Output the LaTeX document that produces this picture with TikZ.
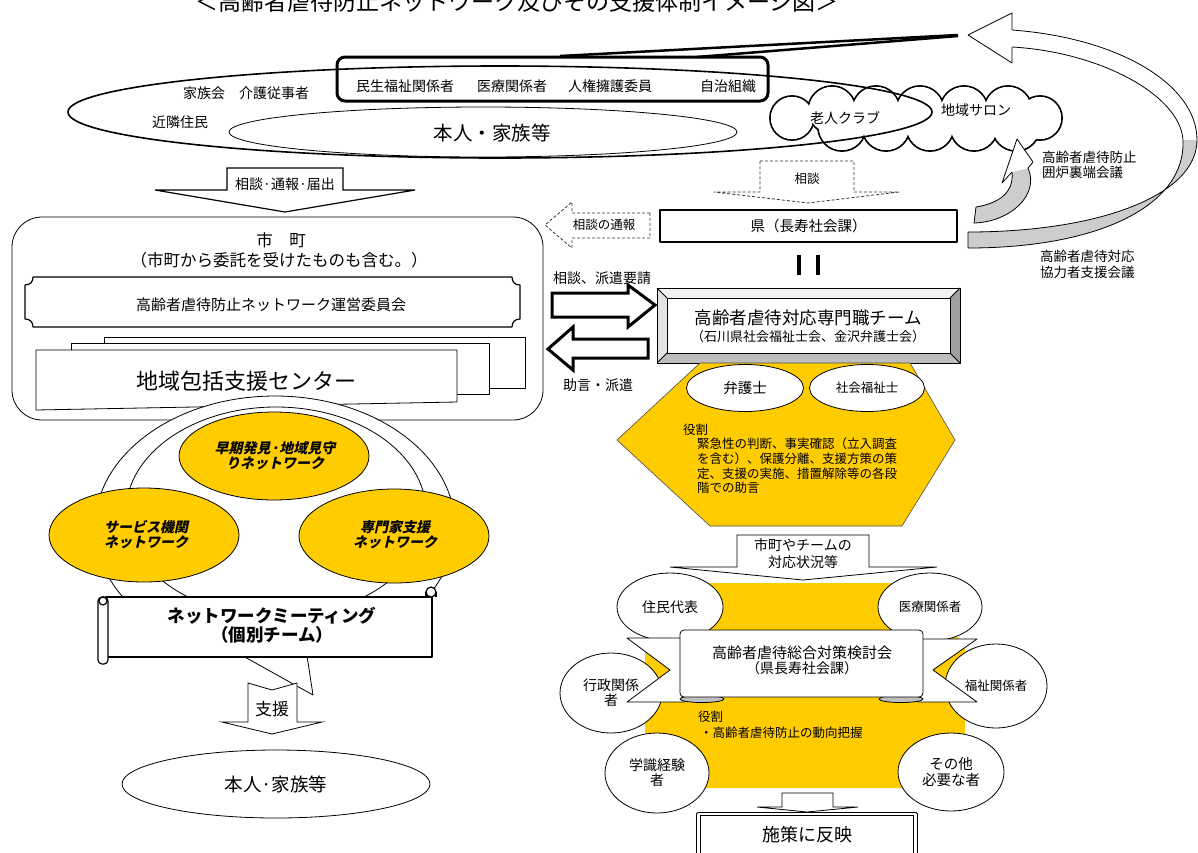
\documentclass[tikz,border=0pt]{standalone}
\usepackage{fontspec}
\setmainfont{Noto Sans CJK JP}
\newfontfamily\jpbi{Noto Sans CJK JP}[FakeSlant=0.22]
\usetikzlibrary{shapes.geometric,calc}
\definecolor{yel}{RGB}{255,204,0}
\definecolor{bevlight}{RGB}{242,242,242}
\definecolor{bevleft}{RGB}{228,228,228}
\definecolor{bevright}{RGB}{160,160,160}
\definecolor{bevbot}{RGB}{190,190,190}
\definecolor{ribbon}{RGB}{205,205,205}
\newcommand\fs[2]{\fontsize{#1}{#2}\selectfont}
\begin{document}
\begin{tikzpicture}[x=1pt,y=-1pt,line join=round,
  every node/.style={inner sep=0pt,outer sep=0pt,align=center},
  ln/.style={draw=black,line width=0.8pt},
  dsh/.style={draw=black!80,line width=0.8pt,dash pattern=on 3pt off 2pt},
  blk/.style={draw=black,line width=3pt,fill=white,line join=miter},
  circ/.style={ellipse,draw=black,line width=0.8pt,fill=white},
  yell/.style={ellipse,draw=black,line width=0.8pt,fill=yel},
  netlbl/.style={font=\jpbi\bfseries\fs{14}{15}},
]
\useasboundingbox (0,0) rectangle (1198,852);
\fill[white] (0,0) rectangle (1198,852);

% ---------- title
\node[anchor=base] (title) at (517,10) {\fs{23}{23}＜高齢者虐待防止ネットワーク及びその支援体制イメージ図＞};

% ---------- cloud (union of lobes)
\foreach \cx/\cy/\r in {792/118/22, 832/110/24, 876/110/24, 920/110/24, 964/110/24, 1008/110/24, 1040/118/22, 842/127/24, 886/127/24, 930/127/24, 974/127/24, 1016/127/24}
  \draw[line width=1.8pt, fill=white] (\cx,\cy) circle[radius=\r];
\foreach \cx/\cy/\r in {792/118/22, 832/110/24, 876/110/24, 920/110/24, 964/110/24, 1008/110/24, 1040/118/22, 842/127/24, 886/127/24, 930/127/24, 974/127/24, 1016/127/24}
  \fill[white] (\cx,\cy) circle[radius=\r-0.9];
\coordinate (cloud) at (915,118);
\node (rojin) at (845,118) {\fs{14}{14}老人クラブ};
\node (salon) at (976,110) {\fs{14}{14}地域サロン};

\node[draw=black, line width=3pt, rounded corners=8pt, fill=white, minimum width=431pt, minimum height=44pt] (kankei) at (552.5,79) {};
\node (minsei) at (405,86) {\fs{14}{14}民生福祉関係者};
\node (iryo) at (512,86) {\fs{14}{14}医療関係者};
\node (jinken) at (610,86) {\fs{14}{14}人権擁護委員};
\node (jichi) at (728,86) {\fs{14}{14}自治組織};

\node[ellipse, draw=black, line width=1.6pt, minimum width=864pt, minimum height=92pt] (outer) at (500,112) {};
\node[ellipse, ln, minimum width=508pt, minimum height=50pt] (inner) at (483,132) {};
\node (kazoku) at (246,93) {\fs{14}{14}家族会　介護従事者};
\node (kinrin) at (180,122) {\fs{14}{14}近隣住民};
\node (honnin) at (492,133) {\fs{19.5}{19.5}本人・家族等};

% black wedge line
\draw[line width=2.5pt] (560,56) -- (958,35);
\draw[line width=2.5pt] (697,57) -- (958,36);

% big twisted return arrow
\fill[white] (1012,30) .. controls (1120,38) and (1197,85) .. (1197,140) -- (1183,140) .. controls (1180,95) and (1100,52) .. (1012,47) -- cycle;
\fill[ribbon] (1197,140) .. controls (1197,195) and (1100,232) .. (968,232) -- (968,248) .. controls (1100,248) and (1186,205) .. (1183,140) -- cycle;
\draw[ln] (1012,30) .. controls (1120,38) and (1197,85) .. (1197,140) .. controls (1197,195) and (1100,232) .. (968,232) -- (968,248) .. controls (1100,248) and (1186,205) .. (1183,140) .. controls (1180,95) and (1100,52) .. (1012,47);
\draw[ln, fill=white] (1012,30) -- (1012,13) -- (968,35) -- (1012,63) -- (1012,47);

% small curved arrow
\fill[ribbon] (976,207) .. controls (1000,203) and (1014,192) .. (1012,172) -- (1028,168) .. controls (1040,195) and (1010,222) .. (974,223) -- cycle;
\draw[ln] (976,207) .. controls (1000,203) and (1014,192) .. (1012,172);
\draw[ln] (1028,168) .. controls (1040,195) and (1010,222) .. (974,223) -- (976,207);
\draw[ln, fill=white] (1012,172) -- (1002,183) -- (1017,139) -- (1033,162) -- (1028,168);

\node[anchor=west, align=left, font=\fs{13.5}{15}] (irori) at (1042,165) {高齢者虐待防止\\囲炉裏端会議};
\node[anchor=west, align=left, font=\fs{13.5}{16}] (kyoryoku) at (1040,264) {高齢者虐待対応\\協力者支援会議};

% ---------- down arrow from community
\draw[line width=1.2pt, fill=white, line join=miter] (227,168) -- (343,168) -- (343,190) -- (415,190) -- (285,212) -- (155,190) -- (227,190) -- cycle;
\node (tsuho) at (285,184) {\fs{14}{14}相談·通報·届出};

% ---------- 県 side
\draw[dsh, fill=white] (760,161) -- (854,161) -- (854,192) -- (899,192) -- (808,203) -- (714,192) -- (760,192) -- cycle;
\node (sodan) at (807,179) {\fs{12.5}{12.5}相談};

\node[draw=black, line width=2.5pt, fill=white, minimum width=297pt, minimum height=32pt] (ken) at (808.5,226) {\fs{14.5}{14.5}県（長寿社会課）};

\draw[dsh, fill=white] (650,213) -- (572,213) -- (572,202) -- (545,225) -- (572,248) -- (572,238) -- (650,238) -- cycle;
\node (sodantsuho) at (604,225) {\fs{12.5}{12.5}相談の通報};

\draw[line width=4pt] ($(ken.south)+(-10,13)$) -- ++(0,20);
\draw[line width=4pt] ($(ken.south)+(9,13)$) -- ++(0,20);

% 3D team button
\fill[bevlight] (657,288) -- (960,288) -- (950,298) -- (667,298) -- cycle;
\fill[bevleft] (657,288) -- (667,298) -- (667,353) -- (657,363) -- cycle;
\fill[bevright] (960,288) -- (960,363) -- (950,353) -- (950,298) -- cycle;
\fill[bevbot] (657,363) -- (960,363) -- (950,353) -- (667,353) -- cycle;
\draw[ln] (657,288) rectangle (960,363);
\draw[ln] (657,288) -- (667,298) (960,288) -- (950,298) (960,363) -- (950,353) (657,363) -- (667,353);
\node[draw=black, line width=0.8pt, fill=white, minimum width=283pt, minimum height=55pt] (team) at (808.5,325.5) {};
\node (teamt) at (808,318) {\fs{17.5}{17.5}高齢者虐待対応専門職チーム};
\node (teams) at (808,337) {\fs{13}{13}（石川県社会福祉士会、金沢弁護士会）};

% block arrows
\draw[blk] (552,293) -- (628,293) -- (628,285) -- (655,305) -- (628,327) -- (628,317) -- (552,317) -- cycle;
\draw[blk] (648,339) -- (573,339) -- (573,327) -- (548,349) -- (573,370) -- (573,358) -- (648,358) -- cycle;
\node (haken) at (602,278) {\fs{14}{14}相談、派遣要請};
\node (jogen) at (598,385) {\fs{14}{14}助言・派遣};

% hexagon
\draw[draw=black!70, line width=0.6pt, fill=yel] (700,363) -- (910,363) -- (955,440) -- (902,526) -- (710,526) -- (617,440) -- cycle;
\node[circ, minimum width=117pt, minimum height=47pt, font=\fs{14.5}{14.5}] (bengo) at (745,388) {弁護士};
\node[circ, minimum width=115pt, minimum height=47pt, font=\fs{12.5}{12.5}] (fukushishi) at (867,388) {社会福祉士};
\node[anchor=west] (yak1) at (683,430) {\fs{12.5}{12.5}役割};
\node[anchor=west] (yak2) at (697,444) {\fs{12.5}{12.5}緊急性の判断、事実確認（立入調査};
\node[anchor=west] (yak3) at (697,459) {\fs{12.5}{12.5}を含む）、保護分離、支援方策の策};
\node[anchor=west] (yak4) at (697,474) {\fs{12.5}{12.5}定、支援の実施、措置解除等の各段};
\node[anchor=west] (yak5) at (697,488) {\fs{12.5}{12.5}階での助言};

% status arrow
\draw[ln, fill=white, line join=miter] (737,535) -- (869,535) -- (869,567) -- (937,567) -- (803,580) -- (670,567) -- (737,567) -- cycle;
\node[font=\fs{14}{17}] (jokyo) at (803,553.5) {市町やチームの\\対応状況等};

% bottom-right committee
\fill[yel] (700,583) -- (905,583) -- (965,645) -- (965,740) -- (905,788) -- (700,788) -- (645,740) -- (645,645) -- cycle;
\node[circ, minimum width=106pt, minimum height=68pt, font=\fs{14}{14}] (jumin) at (670,607) {住民代表};
\node[circ, minimum width=104pt, minimum height=68pt, font=\fs{12.5}{12.5}] (iryo2) at (930,607) {医療関係者};
\node[circ, minimum width=102pt, minimum height=80pt, font=\fs{14}{15}] (gyosei) at (611,693) {行政関係\\者};
\node[circ, minimum width=102pt, minimum height=84pt, font=\fs{12.5}{12.5}] (fukushi) at (996,686) {福祉関係者};
\node[circ, minimum width=104pt, minimum height=80pt, font=\fs{14}{15}] (gakushiki) at (657,773) {学識経験\\者};
\node[circ, minimum width=106pt, minimum height=78pt, font=\fs{14.5}{16}] (sonota) at (951,772) {その他\\必要な者};

\draw[ln, fill=white] (627,638) -- (685,638) -- (685,702) -- (627,702) -- (670,670) -- cycle;
\draw[ln, fill=white] (977,639) -- (918,639) -- (918,702) -- (977,702) -- (933,670) -- cycle;
\draw[ln, fill=black!25] (702,699) ellipse [x radius=22, y radius=3.5];
\draw[ln, fill=black!25] (901,699) ellipse [x radius=22, y radius=3.5];
\node[draw=black, line width=0.8pt, fill=white, rounded corners=4pt, minimum width=243pt, minimum height=67pt] (kentokai) at (801.5,663.5) {};
\node (kentokait) at (802,653) {\fs{15}{15}高齢者虐待総合対策検討会};
\node (kentokais) at (802,668) {\fs{14}{14}（県長寿社会課）};
\node[anchor=west] (yak6) at (698,717) {\fs{12.5}{12.5}役割};
\node[anchor=west] (yak7) at (700,733) {\fs{12.5}{12.5}・高齢者虐待防止の動向把握};

\draw[ln, fill=white, line join=miter] (782,793) -- (833,793) -- (833,807) -- (858,807) -- (807,812) -- (757,807) -- (782,807) -- cycle;
\node[draw=black, line width=0.8pt, double, double distance=2.5pt, minimum width=217pt, minimum height=70pt, anchor=north] (shisaku) at (807,814) {};
\node (shisakut) at (807,835) {\fs{18}{18}施策に反映};

% ---------- 市町 side
\node[draw=black, line width=0.8pt, rounded corners=30pt, fill=white, minimum width=531pt, minimum height=203pt] (shicho) at (277.5,318.5) {};
\node (shichot) at (281,240) {\fs{16.5}{16.5}市　町};
\node (shichos) at (279,260) {\fs{16.5}{16.5}（市町から委託を受けたものも含む。）};

\draw[line width=1.2pt, fill=white] (33,277) -- (512,277) .. controls (512,282) and (515,285) .. (520,285) -- (520,319) .. controls (515,319) and (512,322) .. (512,327) -- (33,327) .. controls (33,322) and (30,319) .. (25,319) -- (25,285) .. controls (30,285) and (33,282) .. (33,277) -- cycle;
\node (unei) at (271,305) {\fs{15}{15}高齢者虐待防止ネットワーク運営委員会};

\draw[ln, fill=white] (104,337) rectangle (525,388);
\draw[ln, fill=white] (71,343) rectangle (489,394);
\draw[ln, fill=white] (36,350) -- (457,350) -- (457,402) -- (36,410) -- cycle;
\node (center) at (246,381) {\fs{22}{22}地域包括支援センター};

% network callout
\node[circ, minimum width=360pt, minimum height=262pt] (netout) at (275,527) {};
\fill[white] (243,656) -- (313,695) -- (307,656) -- (300,650) -- (250,650) -- cycle;
\draw[ln] (243,656) -- (313,695) -- (307,656);
\node[ellipse, ln, minimum width=300pt, minimum height=210pt] (netin) at (276,512) {};
\node[yell, minimum width=190pt, minimum height=88pt] (soki) at (274,456) {};
\node[netlbl] (sokit) at (275,455.5) {早期発見·地域見守\\りネットワーク};
\node[yell, minimum width=190pt, minimum height=94pt] (service) at (144,535) {};
\node[netlbl] (servicet) at (146,535) {サービス機関\\ネットワーク};
\node[yell, minimum width=190pt, minimum height=94pt] (senmon) at (394,536) {};
\node[netlbl] (senmont) at (395,535) {専門家支援\\ネットワーク};

% scroll banner
\node[draw=black, line width=1.2pt, fill=white, minimum width=326pt, minimum height=60pt] (meeting) at (269,627) {};
\draw[line width=1.2pt, fill=white] (431,592) circle[radius=5];
\draw[line width=1.2pt] (426,592) -- (426,597) (436,592) -- (436,597);
\draw[line width=1.2pt, fill=white, rounded corners=4pt] (98,597) rectangle (108,664);
\draw[line width=1.2pt, fill=white] (103,601) circle[radius=4];
\node[font=\bfseries\fs{17.5}{19}] (meetingt) at (272,625.5) {ネットワークミーティング\\（個別チーム）};

% support arrow
\draw[ln, fill=white, line join=miter] (248,683) -- (272,690) -- (297,683) -- (297,722) -- (322,722) -- (272,734) -- (222,722) -- (248,722) -- cycle;
\node (shien) at (272,709) {\fs{17}{17}支援};

\node[circ, minimum width=308pt, minimum height=68pt, font=\fs{18.5}{18.5}] (honnin2) at (276,784) {本人·家族等};
\end{tikzpicture}
\end{document}
